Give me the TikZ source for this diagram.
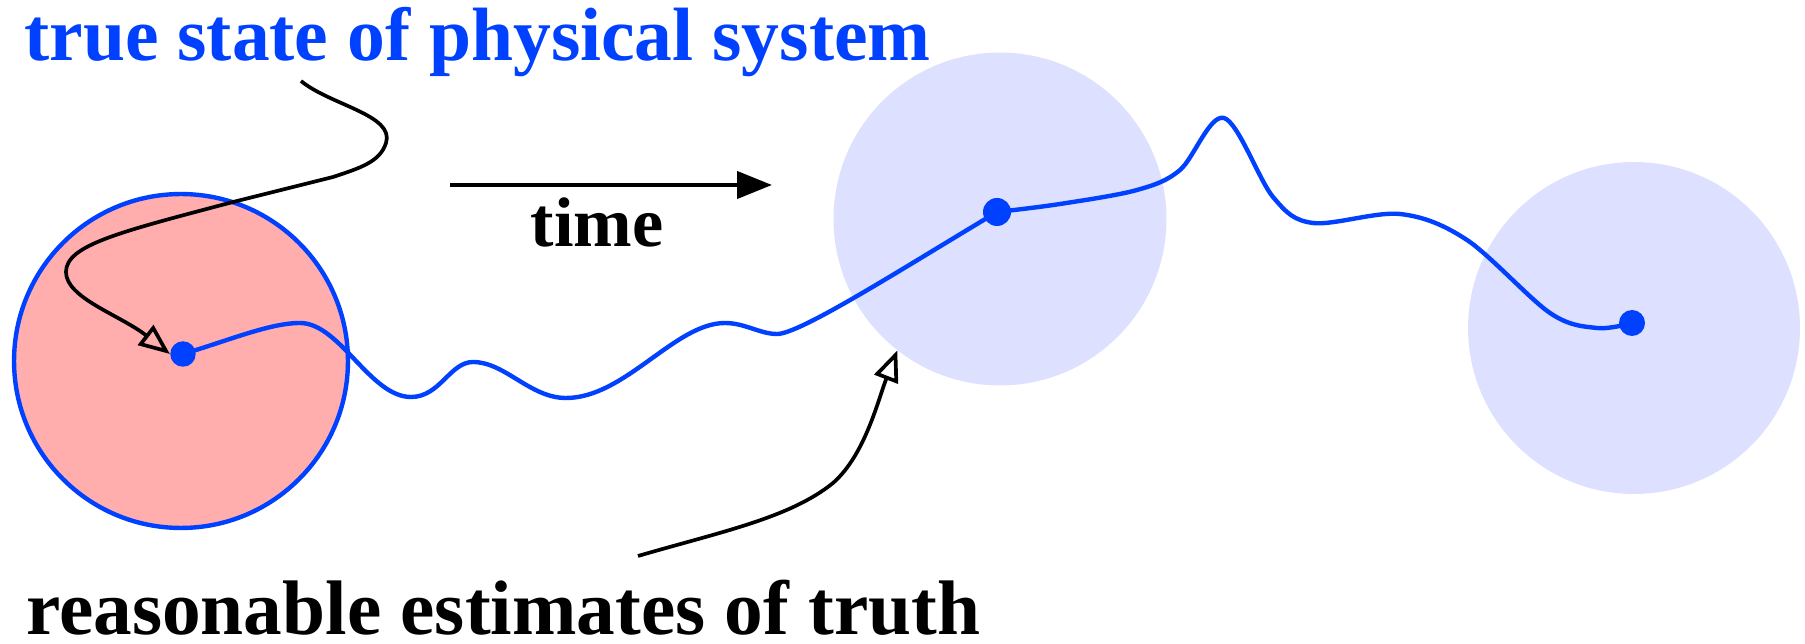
\documentclass[tikz,border=0pt]{standalone}
\usepackage{fontspec}
\setmainfont{Liberation Serif}
\usetikzlibrary{arrows.meta, backgrounds}
\definecolor{truthblue}{HTML}{0040FF}
\definecolor{errpink}{HTML}{FFADAD}
\definecolor{estblue}{HTML}{DDE0FF}

\begin{document}
\begin{tikzpicture}[
    x=0.02cm, y=-0.02cm,
    region/.style={circle, inner sep=0pt, minimum size=6.66cm},
    state/.style={circle, fill=truthblue, inner sep=0pt, minimum size=0.52cm},
    truth/.style={draw=truthblue, line width=2.5pt},
    pointer/.style={line width=2.1pt, -{Triangle[open, length=0.62cm, width=0.5cm]}},
    arr/.style={line width=2.4pt, -{Triangle[length=0.7cm, width=0.54cm]}},
    caption/.style={inner sep=0pt, anchor=base west}
]
\useasboundingbox (0,0) rectangle (1805,644);

% Labels
\node[caption, text=truthblue, font=\bfseries\fontsize{43pt}{48pt}\selectfont] (truthlbl) at (24,61) {true state of physical system};
\node[caption, font=\bfseries\fontsize{44pt}{50pt}\selectfont] (estlbl) at (26,635) {reasonable estimates of truth};
\node[caption, anchor=base, font=\bfseries\fontsize{40pt}{45pt}\selectfont] (timelbl) at (597,247) {time};

% States along the trajectory
\node[state, minimum size=0.51cm] (s0) at (183,354) {};
\node[state, minimum size=0.56cm] (s1) at (997,212) {};
\node[state] (s2) at (1632,323) {};

\begin{scope}[on background layer]
% Uncertainty regions
\node[region, fill=errpink, draw=truthblue, line width=2.5pt, minimum size=6.68cm] (c0) at (181,361) {};
\node[region, fill=estblue] (c1) at (1000,219) {};
\node[region, fill=estblue, minimum size=6.64cm] (c2) at (1634,328) {};

% True trajectory
\draw[truth] (s0.center) .. controls (230,340) and (270,323) .. (300,323)
    .. controls (340,323) and (370,397) .. (411,397)
    .. controls (440,397) and (450,362) .. (473,362)
    .. controls (505,362) and (530,398) .. (566,398)
    .. controls (625,398) and (675,323) .. (725,323)
    .. controls (745,323) and (760,334) .. (777,334)
    .. controls (800,334) and (900,270) .. (s1.center);
\draw[truth] plot[smooth, tension=0.55] coordinates {(s1.center) (1060,204) (1137,190) (1180,170) (1224,118) (1273,197) (1313,223) (1400,214) (1467,240) (1550,313) (1597,328) (s2.center)};
\end{scope}

% Time axis
\coordinate (t0) at (450,185);
\coordinate (t1) at (772,185);
\draw[arr] (t0) -- (t1);

% Pointers
\coordinate (p0) at (301,81);
\coordinate (p1) at (638,556);
\draw[pointer] (p0) .. controls (330,105) and (395,115) .. (386,143)
    .. controls (380,162) and (360,168) .. (333,177) -- (233,202)
    .. controls (120,232) and (66,245) .. (66,272)
    .. controls (66,298) and (120,315) .. (s0.west);
\draw[pointer] (p1) .. controls (720,532) and (790,518) .. (833,483)
    .. controls (865,455) and (878,400) .. (c1.232);

\end{tikzpicture}
\end{document}
